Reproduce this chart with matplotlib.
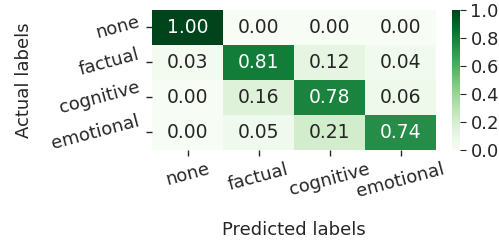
import matplotlib
matplotlib.use("Agg")
import matplotlib.pyplot as plt
import numpy as np
import seaborn as sns

labels = ["none", "factual", "cognitive", "emotional"]
row_none = [1.00, 0.00, 0.00, 0.00]
row_factual = [0.03, 0.81, 0.12, 0.04]
row_cognitive = [0.00, 0.16, 0.78, 0.06]
row_emotional = [0.00, 0.05, 0.21, 0.74]
cm = np.array([row_none, row_factual, row_cognitive, row_emotional])

TXT = "#262626"
plt.rcParams["text.color"] = TXT
plt.rcParams["axes.labelcolor"] = TXT
plt.rcParams["xtick.color"] = TXT
plt.rcParams["ytick.color"] = TXT

fig = plt.figure(figsize=(4.99, 2.41), dpi=100)
ax = fig.add_axes([0.305, 0.378, 0.569, 0.581])
cax = fig.add_axes([0.906, 0.378, 0.016, 0.581])

sns.heatmap(cm, annot=True, fmt=".2f", cmap="Greens", vmin=0, vmax=1,
            ax=ax, cbar_ax=cax, annot_kws={"fontsize": 13.5},
            xticklabels=labels, yticklabels=labels)

ax.set_xticklabels(labels, rotation=15, fontsize=13)
ax.set_yticklabels(labels, rotation=15, fontsize=13)
ax.tick_params(length=4, width=1)
ax.set_xlabel("Predicted labels", fontsize=13, labelpad=14)
ax.set_ylabel("Actual labels", fontsize=13, labelpad=12)
cax.tick_params(labelsize=13, length=4)
cax.set_yticks([0.0, 0.2, 0.4, 0.6, 0.8, 1.0])

fig.savefig("out.png", dpi=100)
